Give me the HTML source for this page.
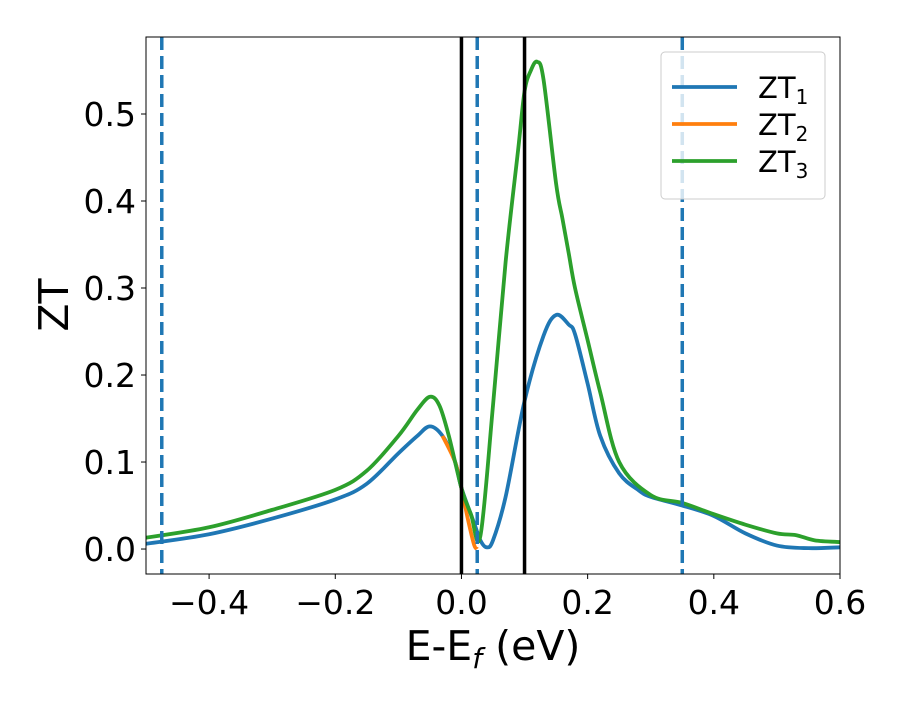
<!DOCTYPE html>
<html><head><meta charset="utf-8"><style>
html,body{margin:0;padding:0;background:#fff;}
svg text{font-family:"DejaVu Sans","Liberation Sans",sans-serif;}
</style></head><body>
<svg id="chart" width="900" height="700" xmlns="http://www.w3.org/2000/svg">
<rect width="900" height="700" fill="#fff"/>
<g id="plot"></g>
<g id="axes"></g>
<text x="493" y="660" font-size="41" text-anchor="middle">E-E<tspan font-style="italic" font-size="28" dy="8">f</tspan><tspan dy="-8"> (eV)</tspan></text>
<text x="0" y="0" font-size="41" text-anchor="middle" transform="translate(68,305) rotate(-90)">ZT</text>
<g id="legend">
<rect x="661" y="52" width="164" height="147" rx="4" fill="#fff" fill-opacity="0.8" stroke="#ccc" stroke-width="1"/>
</g>
</svg>
<script>
const xTicks=[-0.4,-0.2,0.0,0.2,0.4,0.6];
const xTickLabels=["\u22120.4","\u22120.2","0.0","0.2","0.4","0.6"];
const yTicks=[0.0,0.1,0.2,0.3,0.4,0.5];
const yTickLabels=["0.0","0.1","0.2","0.3","0.4","0.5"];
const dashedLines=[-0.475,0.025,0.35];
const solidLines=[0.0,0.1];
const x1=[-0.5,-0.4,-0.3,-0.2,-0.15,-0.1,-0.07,-0.05,-0.03,-0.01,0.0,0.02,0.03,0.04,0.05,0.07,0.1,0.13,0.15,0.17,0.18,0.2,0.22,0.25,0.28,0.3,0.35,0.4,0.45,0.5,0.55,0.6];
const zt1=[0.006,0.017,0.035,0.057,0.075,0.11,0.13,0.141,0.13,0.1,0.07,0.03,0.01,0.002,0.01,0.06,0.17,0.245,0.269,0.258,0.247,0.19,0.13,0.087,0.068,0.06,0.05,0.038,0.018,0.004,0.001,0.002];
const x2=[-0.03,-0.01,0.0,0.01,0.02,0.025];
const zt2=[0.13,0.1,0.07,0.035,0.005,0.0];
const x3=[-0.5,-0.4,-0.3,-0.2,-0.15,-0.1,-0.07,-0.05,-0.035,-0.02,0.0,0.015,0.03,0.05,0.07,0.09,0.1,0.11,0.12,0.13,0.15,0.16,0.17,0.18,0.2,0.22,0.25,0.3,0.35,0.4,0.45,0.5,0.53,0.56,0.6];
const zt3=[0.013,0.025,0.045,0.068,0.09,0.13,0.16,0.175,0.165,0.13,0.07,0.04,0.015,0.165,0.33,0.46,0.526,0.55,0.56,0.54,0.42,0.38,0.34,0.3,0.24,0.18,0.1,0.062,0.053,0.04,0.028,0.018,0.016,0.01,0.008];
const legendLabels=["1","2","3"];
const colors=["#1f77b4","#ff7f0e","#2ca02c"];

const L=146,R=840,T=37,B=574,xmin=-0.5,xmax=0.6,ymin=-0.0287,ymax=0.5885;
const sx=v=>L+(v-xmin)/(xmax-xmin)*(R-L);
const sy=v=>B-(v-ymin)/(ymax-ymin)*(B-T);
const NS="http://www.w3.org/2000/svg";
function mk(tag,attrs,parent){const e=document.createElementNS(NS,tag);for(const k in attrs)e.setAttribute(k,attrs[k]);parent.appendChild(e);return e;}
const plot=document.getElementById('plot'),axes=document.getElementById('axes'),legend=document.getElementById('legend');
const cp=mk('clipPath',{id:'clip'},plot);
mk('rect',{x:L,y:T,width:R-L,height:B-T},cp);
function pathFor(xs,ys){
  const p=xs.map((x,i)=>[sx(x),sy(ys[i])]);
  let d='M'+p[0][0]+','+p[0][1];
  for(let i=0;i<p.length-1;i++){
    const p0=p[Math.max(0,i-1)],p1=p[i],p2=p[i+1],p3=p[Math.min(p.length-1,i+2)];
    const c1=[p1[0]+(p2[0]-p0[0])/6,p1[1]+(p2[1]-p0[1])/6],c2=[p2[0]-(p3[0]-p1[0])/6,p2[1]-(p3[1]-p1[1])/6];
    d+=' C'+c1+' '+c2+' '+p2;
  }
  return d;
}
const series=[[x1,zt1,'zt1-line'],[x2,zt2,'zt2-line'],[x3,zt3,'zt3-line']];
series.forEach((s,i)=>{
  const e=mk('path',{d:pathFor(s[0],s[1]),fill:'none',stroke:colors[i],'stroke-width':3.8,'clip-path':'url(#clip)','stroke-linejoin':'round'},plot);
  
  
});
dashedLines.forEach(v=>{
  const e=mk('line',{x1:sx(v),x2:sx(v),y1:T,y2:B,stroke:'#1f77b4','stroke-width':3.5,'stroke-dasharray':'13 6'},plot);
  
  
});
solidLines.forEach(v=>{
  const e=mk('line',{x1:sx(v),x2:sx(v),y1:T,y2:B,stroke:'#000','stroke-width':3.5},plot);
  
  
});
const fr=mk('rect',{x:L,y:T,width:R-L,height:B-T,fill:'none',stroke:'#000','stroke-width':1},axes);


xTicks.forEach((v,i)=>{
  mk('line',{x1:sx(v),x2:sx(v),y1:B,y2:B+5,stroke:'#000'},axes);
  const t=mk('text',{x:sx(v),y:B+40,'font-size':33,'text-anchor':'middle'},axes);t.textContent=xTickLabels[i];
  
  
});
yTicks.forEach((v,i)=>{
  mk('line',{x1:L-5,x2:L,y1:sy(v),y2:sy(v),stroke:'#000'},axes);
  const t=mk('text',{x:L-10,y:sy(v)+12,'font-size':33,'text-anchor':'end'},axes);t.textContent=yTickLabels[i];
  
  
});
legendLabels.forEach((s,i)=>{
  const y=87+i*37;
  const ln=mk('line',{x1:672,x2:737,y1:y,y2:y,stroke:colors[i],'stroke-width':3.8},legend);
  
  
  const t=mk('text',{x:758,y:y+11,'font-size':29},legend);
  t.textContent='ZT';
  const sub=mk('tspan',{'font-size':20,dy:6},t);sub.textContent=s;
  
  
});
</script>
</body></html>
